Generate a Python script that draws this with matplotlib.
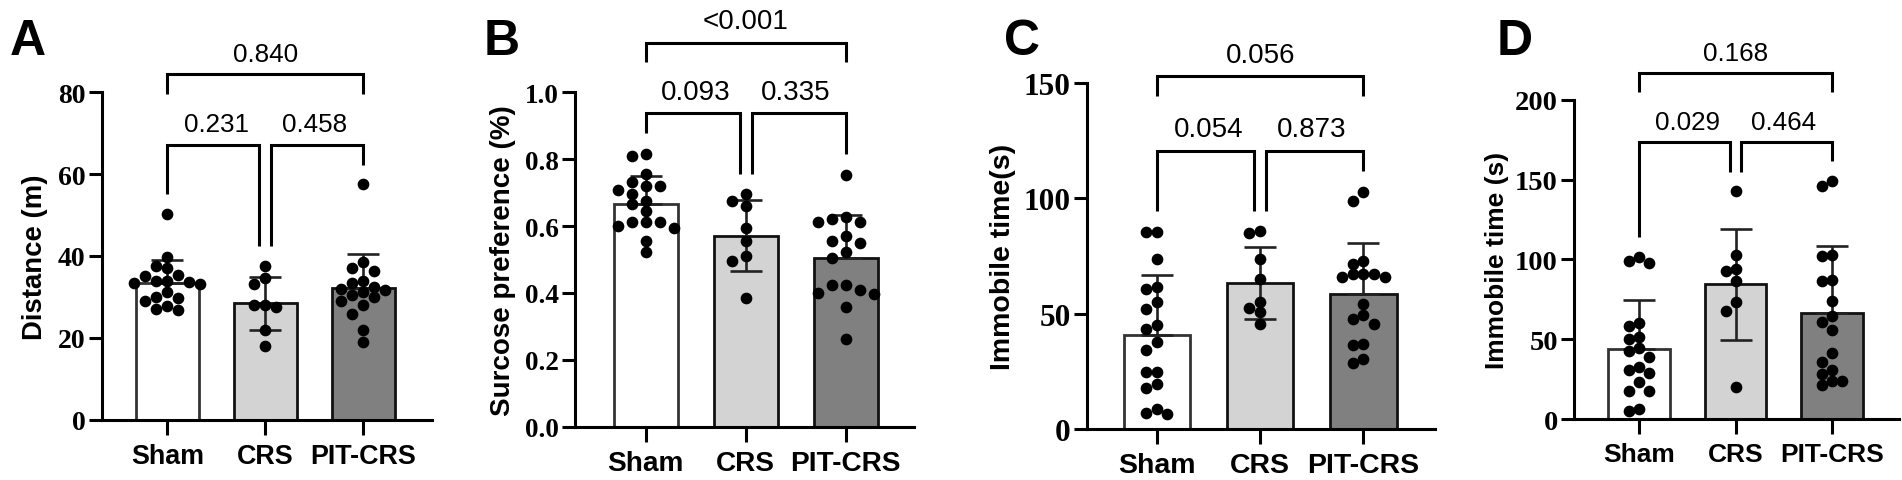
import matplotlib
matplotlib.use("Agg")
import matplotlib.pyplot as plt
import numpy as np

# ---------------- data ----------------
groups = ["Sham", "CRS", "PIT-CRS"]

a_sham = [50.3, 39.7, 37.6, 37.0, 35.4, 35.2, 34.0, 34.0, 33.2, 33.5, 33.7, 31.3, 29.7, 30.1, 28.9, 27.9, 27.1, 26.9]
a_crs = [37.5, 34.6, 33.2, 28.1, 27.5, 28.1, 21.8, 18.1]
a_pit = [57.5, 38.5, 37.0, 36.3, 34.0, 33.5, 32.5, 32.0, 31.8, 31.2, 30.5, 30.0, 29.0, 28.0, 25.8, 21.8, 19.1]
a_mean = [33.3, 28.4, 32.1]
a_sd = [5.8, 6.4, 8.4]
a_p = ["0.231", "0.458", "0.840"]

b_sham = [0.811, 0.816, 0.756, 0.731, 0.709, 0.719, 0.719, 0.696, 0.676, 0.666, 0.646, 0.613, 0.601, 0.611, 0.593, 0.611, 0.556, 0.521]
b_crs = [0.696, 0.676, 0.661, 0.593, 0.556, 0.509, 0.497, 0.384]
b_pit = [0.754, 0.626, 0.612, 0.612, 0.620, 0.571, 0.556, 0.550, 0.523, 0.503, 0.424, 0.424, 0.410, 0.400, 0.397, 0.359, 0.262]
b_mean = [0.666, 0.571, 0.505]
b_sd = [0.085, 0.106, 0.128]
b_p = ["0.093", "0.335", "<0.001"]

c_sham = [85.5, 85.5, 73.5, 61.6, 60.9, 55.1, 52.2, 44.9, 43.5, 37.7, 34.3, 24.6, 24.6, 19.6, 17.7, 8.7, 6.8, 6.5]
c_crs = [85.8, 84.8, 73.5, 65.2, 55.1, 52.5, 50.7, 45.7]
c_pit = [102.6, 98.8, 72.9, 71.4, 67.4, 67.4, 67.0, 65.9, 65.9, 54.3, 49.6, 47.8, 45.4, 37.0, 36.2, 30.4, 28.7]
c_mean = [40.6, 63.3, 58.7]
c_sd = [26.1, 15.4, 22.0]
c_p = ["0.054", "0.873", "0.056"]

d_sham = [101.7, 98.7, 97.7, 60.1, 58.5, 51.1, 50.1, 44.3, 42.8, 38.6, 32.4, 30.9, 28.6, 23.0, 17.7, 17.3, 6.3, 5.2]
d_crs = [143.0, 102.7, 93.9, 92.5, 86.6, 73.5, 67.4, 19.8]
d_pit = [149.3, 145.7, 102.7, 102.3, 87.3, 86.6, 73.7, 64.7, 61.0, 56.0, 41.3, 35.5, 30.9, 28.2, 23.6, 23.6, 21.3]
d_mean = [43.8, 84.3, 66.4]
d_sd = [30.7, 34.8, 41.7]
d_p = ["0.029", "0.464", "0.168"]

ylabels = ["Distance (m)", "Surcose preference (%)", "Immobile time(s)", "Immobile time (s)"]
letters = ["A", "B", "C", "D"]

# ---------------- layout / style ----------------
W, H = 1902, 481
fig = plt.figure(figsize=(W / 100, H / 100), dpi=100)

bar_colors = ["white", "#d3d3d3", "#808080"]
edge_colors = ["#333333", "#111111", "#111111"]

layout = [
    dict(data=(a_sham, a_crs, a_pit), mean=a_mean, sd=a_sd, p=a_p,
         box=(101.7, 93.3, 432.0, 420.7), xlim=(-0.67, 2.70), ylim=(0, 80), yticks=[0, 20, 40, 60, 80],
         ytfmt="{:.0f}", ytfs=20, xtfs=19.4, ylfs=19.8, pfs=18.7, lab_x=35, let_x=10, sp=11.0,
         br=dict(top=84.5, top_leg=79.6, low=67.2, sham=55.2, crs=42.4, pit=62.3)),
    dict(data=(b_sham, b_crs, b_pit), mean=b_mean, sd=b_sd, p=b_p,
         box=(575.0, 93.3, 914.0, 427.7), xlim=(-0.705, 2.685), ylim=(0, 1.0), yticks=[0, 0.2, 0.4, 0.6, 0.8, 1.0],
         ytfmt="{:.1f}", ytfs=19.5, xtfs=20.2, ylfs=20.0, pfs=20.0, lab_x=503, let_x=484, sp=14.0,
         br=dict(top=1.148, top_leg=1.09, low=0.938, sham=0.878, crs=0.756, pit=0.816)),
    dict(data=(c_sham, c_crs, c_pit), mean=c_mean, sd=c_sd, p=c_p,
         box=(1086.7, 84.0, 1434.8, 430.0), xlim=(-0.678, 2.69), ylim=(0, 150), yticks=[0, 50, 100, 150],
         ytfmt="{:.0f}", ytfs=22.5, xtfs=20.5, ylfs=20.5, pfs=20.0, lab_x=1003, let_x=1004, sp=10.7,
         br=dict(top=152.9, top_leg=144.2, low=120.6, sham=94.5, crs=94.5, pit=111.9)),
    dict(data=(d_sham, d_crs, d_pit), mean=d_mean, sd=d_sd, p=d_p,
         box=(1574.0, 100.7, 1899.0, 420.0), xlim=(-0.674, 2.694), ylim=(0, 200), yticks=[0, 50, 100, 150, 200],
         ytfmt="{:.0f}", ytfs=20.5, xtfs=19.0, ylfs=19.0, pfs=18.7, lab_x=1497, let_x=1497, sp=9.8,
         br=dict(top=216.7, top_leg=204.6, low=173.3, sham=113.8, crs=154.9, pit=161.8)),
]

serif_bold = dict(family="Liberation Serif", weight="bold")
sans_bold = dict(family="Liberation Sans", weight="bold")

LW = 2.2
DOT_D = 10.0  # px


def swarm_offsets(ax, center, values, spacing_px, diam_px):
    """Simple column beeswarm in pixel space, returns x data coords."""
    inv = ax.transData
    x0 = inv.transform((center, 0))[0]
    x1 = inv.transform((center + 1, 0))[0]
    px_per_unit = x1 - x0
    order = np.argsort(-np.asarray(values), kind="stable")
    placed = []  # (col, ypix)
    xs = np.zeros(len(values))
    ks = [0]
    for k in range(1, 8):
        ks += [-k, k]
    for idx in order:
        yp = inv.transform((0, values[idx]))[1]
        for k in ks:
            if all(not (pk == k and abs(py - yp) < diam_px) for pk, py in placed):
                placed.append((k, yp))
                xs[idx] = center + k * spacing_px / px_per_unit
                break
    return xs


for i, cfg in enumerate(layout):
    l, t, r, b = cfg["box"]
    ax = fig.add_axes([l / W, 1 - b / H, (r - l) / W, (b - t) / H])
    ax.set_xlim(*cfg["xlim"])
    ax.set_ylim(*cfg["ylim"])
    x = np.arange(3)

    ax.bar(x, cfg["mean"], width=0.64, color=bar_colors, edgecolor=edge_colors,
           linewidth=2.0, zorder=2)
    for j in range(3):
        lower = cfg["sd"][j] if j == 1 else 0
        ax.errorbar(j, cfg["mean"][j], yerr=[[lower], [cfg["sd"][j]]], fmt="none",
                    ecolor="#222222", elinewidth=1.9, capsize=11.5, capthick=1.9, zorder=3)

    for j, vals in enumerate(cfg["data"]):
        xs = swarm_offsets(ax, j, vals, cfg["sp"], DOT_D)
        ax.plot(xs, vals, "o", ms=7.4, color="black", mec="black", zorder=4, clip_on=False)

    for s in ["top", "right"]:
        ax.spines[s].set_visible(False)
    for s in ["left", "bottom"]:
        ax.spines[s].set_linewidth(LW)
        ax.spines[s].set_color("black")

    ax.set_xticks(x)
    ax.set_xticklabels(groups, fontsize=cfg["xtfs"], **sans_bold)
    ax.set_yticks(cfg["yticks"])
    ax.set_yticklabels([cfg["ytfmt"].format(v) for v in cfg["yticks"]], fontsize=cfg["ytfs"], **serif_bold)
    ax.tick_params(axis="x", length=10.5, width=LW, pad=6)
    ax.tick_params(axis="y", length=9.6, width=LW, pad=2)

    ax.set_ylabel(ylabels[i], fontsize=cfg["ylfs"], **sans_bold)
    ax.yaxis.set_label_coords((cfg["lab_x"] - l) / (r - l), 0.5)
    ax.yaxis.label.set_verticalalignment("center")

    # significance brackets
    br = cfg["br"]
    g = 0.06
    kw = dict(color="black", lw=LW, clip_on=False, solid_joinstyle="miter", solid_capstyle="butt", zorder=5)
    ax.plot([0, 0, 1 - g, 1 - g], [br["sham"], br["low"], br["low"], br["crs"]], **kw)
    ax.plot([1 + g, 1 + g, 2, 2], [br["crs"], br["low"], br["low"], br["pit"]], **kw)
    ax.plot([0, 0, 2, 2], [br["top_leg"], br["top"], br["top"], br["top_leg"]], **kw)
    tk = dict(textcoords="offset points", ha="center", va="bottom", fontsize=cfg["pfs"],
              family="Liberation Sans", annotation_clip=False)
    ax.annotate(cfg["p"][0], xy=(0.5, br["low"]), xytext=(0, 6), **tk)
    ax.annotate(cfg["p"][1], xy=(1.5, br["low"]), xytext=(0, 6), **tk)
    ax.annotate(cfg["p"][2], xy=(1.0, br["top"]), xytext=(0, 6), **tk)

    fig.text(cfg["let_x"] / W, 1 - 55 / H, letters[i], fontsize=36, va="baseline", ha="left", **sans_bold)

fig.savefig("out.png", dpi=100)
